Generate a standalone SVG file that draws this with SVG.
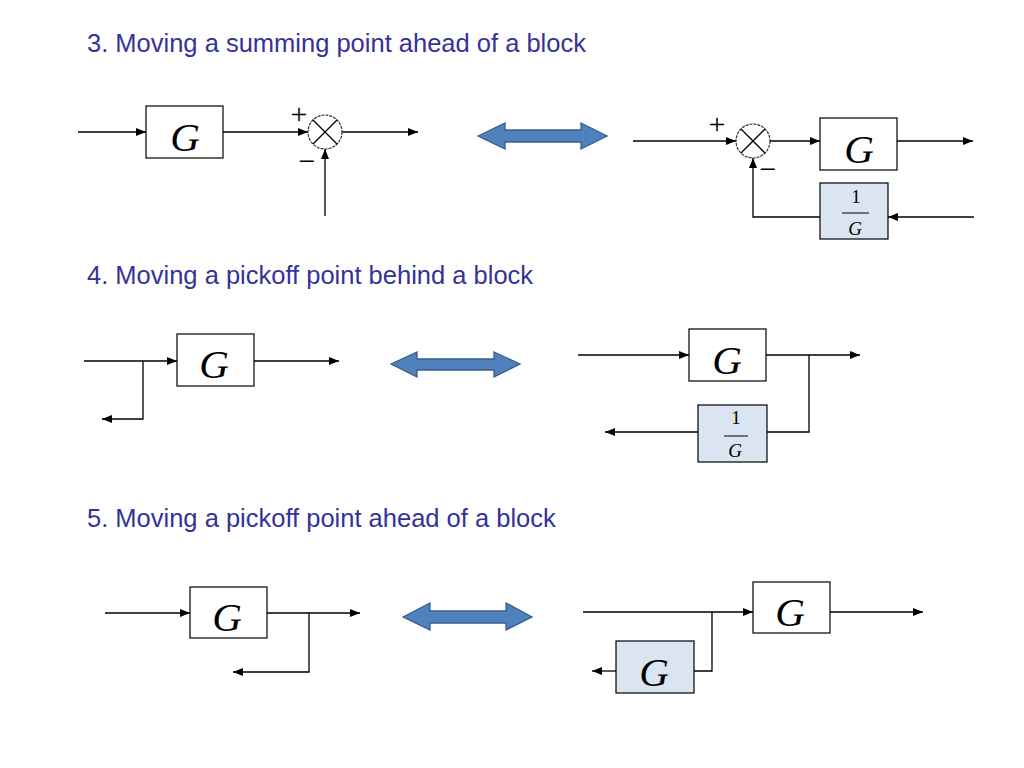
<svg xmlns="http://www.w3.org/2000/svg" width="1024" height="768" viewBox="0 0 1024 768">
<style>
.title{font-family:"Liberation Sans",Arial,sans-serif;font-size:25.5px;fill:#333399}
.blk{fill:#ffffff;stroke:#000000;stroke-width:1.2}
.shd{fill:#dbe5f1;stroke:#000000;stroke-width:1.2}
.g{font-family:"Liberation Serif","Times New Roman",serif;font-style:italic;font-size:41px;text-anchor:middle;fill:#000}
.fr{font-family:"Liberation Serif","Times New Roman",serif;font-size:19px;text-anchor:middle;fill:#000}
.fri{font-style:italic}
.sg{font-family:"Liberation Serif","Times New Roman",serif;font-size:30px;text-anchor:middle;fill:#000}
.ln{fill:none;stroke:#000;stroke-width:1.3}
.ar{marker-end:url(#ah)}
.sum{fill:#fff;stroke:#333;stroke-width:1.2;stroke-dasharray:3 1}
.dbl{fill:#4f81bd;stroke:#385d8a;stroke-width:1.3}
</style>
<defs>
<marker id="ah" viewBox="0 0 10 8" markerWidth="10" markerHeight="8" refX="10" refY="4" orient="auto" markerUnits="userSpaceOnUse">
<path d="M0,0 L10,4 L0,8 z" fill="#000"/>
</marker>
</defs>
<rect width="1024" height="768" fill="#fff"/>

<g id="titles">
<text class="title" x="87" y="52">3. Moving a summing point ahead of a block</text>
<text class="title" x="87" y="284">4. Moving a pickoff point behind a block</text>
<text class="title" x="87" y="527">5. Moving a pickoff point ahead of a block</text>
</g>

<g id="connectors">
<!-- section 3 left -->
<path class="ln ar" d="M78,132 H146"/>
<path class="ln ar" d="M223,132 H308"/>
<path class="ln ar" d="M342,132 H418"/>
<path class="ln ar" d="M325,216 V149"/>
<!-- section 3 right -->
<path class="ln ar" d="M633,141 H736"/>
<path class="ln ar" d="M770,141 H820"/>
<path class="ln ar" d="M897,141 H973"/>
<path class="ln ar" d="M974,217 H888"/>
<path class="ln ar" d="M820,217 H753 V158"/>
<!-- section 4 left -->
<path class="ln ar" d="M84,361 H177"/>
<path class="ln ar" d="M254,361 H339"/>
<path class="ln ar" d="M143,361 V419 H102"/>
<!-- section 4 right -->
<path class="ln ar" d="M578,355 H689"/>
<path class="ln ar" d="M766,355 H860"/>
<path class="ln" d="M809,355 V432 H767"/>
<path class="ln ar" d="M698,432 H605"/>
<!-- section 5 left -->
<path class="ln ar" d="M105,613 H190"/>
<path class="ln ar" d="M267,613 H360"/>
<path class="ln ar" d="M309,613 V672 H233"/>
<!-- section 5 right -->
<path class="ln ar" d="M583,612 H753"/>
<path class="ln ar" d="M830,612 H923"/>
<path class="ln" d="M712,612 V671 H694"/>
<path class="ln ar" d="M616,671 H592"/>
</g>

<g id="s3-left-G">
<rect class="blk" x="146" y="106" width="77" height="52"/>
<text class="g" x="185" y="151">G</text>
</g>
<g id="s3-left-sum">
<circle class="sum" cx="325" cy="132" r="17"/>
<path class="ln" d="M313,120 L337,144 M337,120 L313,144" stroke-width="1"/>
<text class="sg" x="299" y="124">+</text>
<text class="sg" x="307" y="171">−</text>
</g>

<g id="equiv-1">
<path class="dbl" d="M478,136 L505,123 L505,130 L581,130 L581,123 L607,136 L581,149 L581,142 L505,142 L505,149 Z"/>
</g>

<g id="s3-right-sum">
<circle class="sum" cx="753" cy="141" r="17"/>
<path class="ln" d="M741,129 L765,153 M765,129 L741,153" stroke-width="1"/>
<text class="sg" x="717" y="134">+</text>
<text class="sg" x="768" y="179">−</text>
</g>
<g id="s3-right-G">
<rect class="blk" x="820" y="118" width="77" height="52"/>
<text class="g" x="859" y="163">G</text>
</g>
<g id="s3-right-invG">
<rect class="shd" x="820" y="183" width="68" height="56"/>
<text class="fr" x="856" y="203">1</text>
<line x1="842" y1="213" x2="869" y2="213" stroke="#000" stroke-width="1"/>
<text class="fr fri" x="855" y="235">G</text>
</g>

<g id="s4-left-G">
<rect class="blk" x="177" y="334" width="77" height="52"/>
<text class="g" x="214" y="378">G</text>
</g>

<g id="equiv-2">
<path class="dbl" d="M391,364 L417,352 L417,359 L494,359 L494,352 L520,364 L494,377 L494,370 L417,370 L417,377 Z"/>
</g>

<g id="s4-right-G">
<rect class="blk" x="689" y="329" width="77" height="52"/>
<text class="g" x="727" y="374">G</text>
</g>
<g id="s4-right-invG">
<rect class="shd" x="698" y="405" width="69" height="57"/>
<text class="fr" x="736" y="424">1</text>
<line x1="724" y1="436" x2="748" y2="436" stroke="#000" stroke-width="1"/>
<text class="fr fri" x="735" y="457">G</text>
</g>

<g id="s5-left-G">
<rect class="blk" x="190" y="587" width="77" height="51"/>
<text class="g" x="227" y="631">G</text>
</g>

<g id="equiv-3">
<path class="dbl" d="M403,617 L430,603 L430,611 L506,611 L506,603 L532,617 L506,630 L506,623 L430,623 L430,630 Z"/>
</g>

<g id="s5-right-G">
<rect class="blk" x="753" y="582" width="77" height="51"/>
<text class="g" x="790" y="626">G</text>
</g>
<g id="s5-right-G2">
<rect class="shd" x="616" y="641" width="78" height="52"/>
<text class="g" x="654" y="686">G</text>
</g>
</svg>
